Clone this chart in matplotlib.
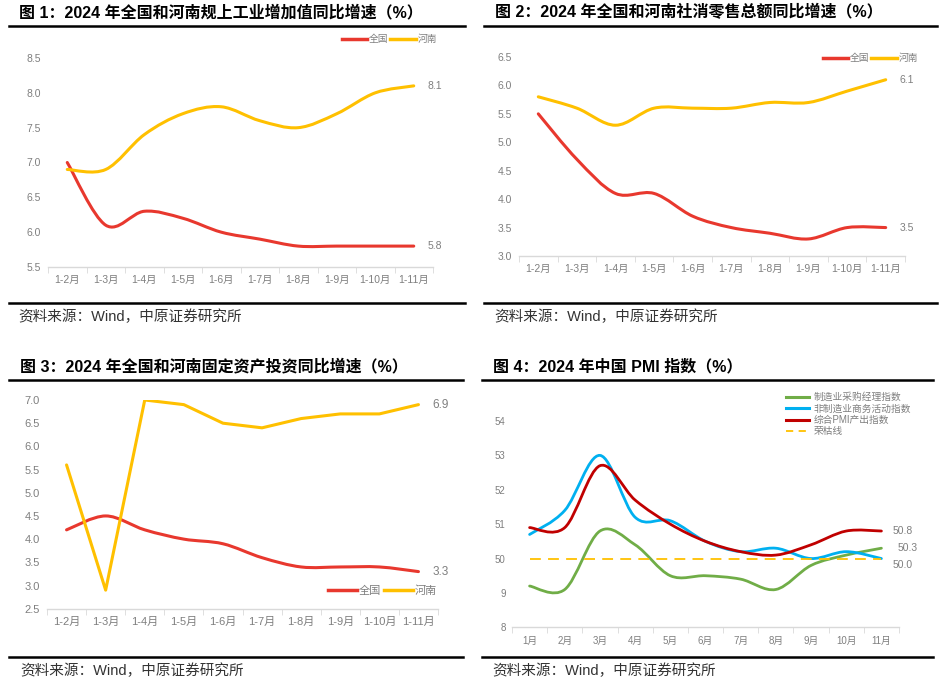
import matplotlib
matplotlib.use("Agg")
import matplotlib.pyplot as plt
from matplotlib.path import Path
from matplotlib.patches import PathPatch
from matplotlib.lines import Line2D

plt.rcParams['font.family'] = ['Liberation Sans', 'Noto Sans CJK SC', 'DejaVu Sans']

# ---- data ----
months_cum = ["1-2月", "1-3月", "1-4月", "1-5月", "1-6月", "1-7月", "1-8月", "1-9月", "1-10月", "1-11月"]
months = ["1月", "2月", "3月", "4月", "5月", "6月", "7月", "8月", "9月", "10月", "11月"]

ind_nat = [7.0, 6.1, 6.3, 6.2, 6.0, 5.9, 5.8, 5.8, 5.8, 5.8]
ind_hn = [6.9, 6.9, 7.4, 7.7, 7.8, 7.6, 7.5, 7.7, 8.0, 8.1]

retail_nat = [5.5, 4.7, 4.1, 4.1, 3.7, 3.5, 3.4, 3.3, 3.5, 3.5]
retail_hn = [5.8, 5.6, 5.3, 5.6, 5.6, 5.6, 5.7, 5.7, 5.9, 6.1]

fai_nat = [4.2, 4.5, 4.2, 4.0, 3.9, 3.6, 3.4, 3.4, 3.4, 3.3]
fai_hn = [5.6, 2.9, 7.0, 6.9, 6.5, 6.4, 6.6, 6.7, 6.7, 6.9]

pmi_mfg = [49.2, 49.1, 50.8, 50.4, 49.5, 49.5, 49.4, 49.1, 49.8, 50.1, 50.3]
pmi_non = [50.7, 51.4, 53.0, 51.2, 51.1, 50.5, 50.2, 50.3, 50.0, 50.2, 50.0]
pmi_comp = [50.9, 50.9, 52.7, 51.7, 51.0, 50.5, 50.2, 50.1, 50.4, 50.8, 50.8]
pmi_line = 50.0
pmi_ticks = [48, 49, 50, 51, 52, 53, 54]
pmi_ticklabels = ["8", "9", "50", "51", "52", "53", "54"]

RED = "#E8382E"
YEL = "#FFC000"
GREEN = "#70AD47"
BLUE = "#00B0F0"
DRED = "#C00000"
GRAY = "#7F7F7F"

W, H = 942, 682
fig = plt.figure(figsize=(W / 100, H / 100), dpi=100)


def fx(px):
    return px / W


def fy(py):
    return 1 - py / H


def smooth(ax, ys, color, lw=2.2):
    # Excel-style smoothed line: cubic bezier through every point
    pts = list(zip(range(len(ys)), ys))
    verts = [pts[0]]
    codes = [Path.MOVETO]
    n = len(pts)
    for i in range(n - 1):
        p0 = pts[i - 1] if i > 0 else pts[i]
        p1, p2 = pts[i], pts[i + 1]
        p3 = pts[i + 2] if i + 2 < n else pts[i + 1]
        c1 = (p1[0] + (p2[0] - p0[0]) / 6, p1[1] + (p2[1] - p0[1]) / 6)
        c2 = (p2[0] - (p3[0] - p1[0]) / 6, p2[1] - (p3[1] - p1[1]) / 6)
        verts += [c1, c2, p2]
        codes += [Path.CURVE4] * 3
    ax.add_patch(PathPatch(Path(verts, codes), fill=False, edgecolor=color, lw=lw,
                           capstyle='round', joinstyle='round'))


def frame(x0, x1, ytitle, yrule, ybot, title, tx, sx):
    fig.add_artist(Line2D([fx(x0), fx(x1)], [fy(yrule), fy(yrule)], color='black', lw=1.8))
    fig.add_artist(Line2D([fx(x0), fx(x1)], [fy(ybot), fy(ybot)], color='black', lw=1.8))
    fig.text(fx(tx), fy(ytitle), title, fontsize=11.5, fontweight='bold', va='center', ha='left')
    fig.text(fx(sx), fy(ybot + 14), "资料来源：Wind，中原证券研究所", fontsize=10.5,
             va='center', ha='left', color='#333333')


def setup(ax, labels, ylim, yticks, fs=7, ypad=5):
    n = len(labels)
    ax.set_xlim(-0.5, n - 0.5)
    ax.set_ylim(*ylim)
    ax.set_xticks(range(n))
    ax.set_xticklabels(labels, fontsize=fs, color=GRAY)
    ax.set_xticks([i - 0.5 for i in range(n + 1)], minor=True)
    ax.tick_params(axis='x', which='major', length=0, pad=6)
    ax.tick_params(axis='x', which='minor', length=4, color='#D9D9D9', direction='out')
    ax.set_yticks(yticks)
    ax.tick_params(axis='y', length=0, labelsize=fs, labelcolor=GRAY, pad=ypad)
    for s in ['top', 'right', 'left']:
        ax.spines[s].set_visible(False)
    ax.spines['bottom'].set_color('#D9D9D9')
    ax.spines['bottom'].set_linewidth(1)
    ax.patch.set_alpha(0)


def legend2(ax, colors, names, xr, yc, fs=7):
    handles = [Line2D([], [], color=c, lw=2.5) for c in colors]
    ax.legend(handles, names, loc='center right', bbox_to_anchor=(fx(xr), fy(yc)),
              bbox_transform=fig.transFigure, ncol=len(names), frameon=False, fontsize=fs,
              handlelength=2.6, handletextpad=0.2, columnspacing=0.2, labelcolor=GRAY,
              borderpad=0, borderaxespad=0)


# ---- panel 1 ----
frame(9, 465, 12, 25.7, 302.7, "图 1：2024 年全国和河南规上工业增加值同比增速（%）", 19, 18)
ax1 = fig.add_axes([fx(48), fy(267), fx(433 - 48), (267 - 58) / H])
setup(ax1, months_cum, (5.5, 8.5), [5.5, 6.0, 6.5, 7.0, 7.5, 8.0, 8.5], fs=7.5)
ax1.set_yticklabels([f"{v:.1f}" for v in ax1.get_yticks()])
smooth(ax1, ind_nat, RED)
smooth(ax1, ind_hn, YEL)
ax1.annotate(f"{ind_hn[-1]:.1f}", (9, ind_hn[-1]), xytext=(10, 0), textcoords='offset points',
             fontsize=7.5, color=GRAY, va='center')
ax1.annotate(f"{ind_nat[-1]:.1f}", (9, ind_nat[-1]), xytext=(10, 0), textcoords='offset points',
             fontsize=7.5, color=GRAY, va='center')
legend2(ax1, [RED, YEL], ["全国", "河南"], 437, 39)

# ---- panel 2 ----
frame(484, 937, 12, 25.7, 302.7, "图 2：2024 年全国和河南社消零售总额同比增速（%）", 495, 494)
ax2 = fig.add_axes([fx(519), fy(256), fx(905 - 519), (256 - 57) / H])
setup(ax2, months_cum, (3.0, 6.5), [3.0, 3.5, 4.0, 4.5, 5.0, 5.5, 6.0, 6.5], fs=7.5)
ax2.set_yticklabels([f"{v:.1f}" for v in ax2.get_yticks()])
smooth(ax2, retail_nat, RED)
smooth(ax2, retail_hn, YEL)
ax2.annotate(f"{retail_hn[-1]:.1f}", (9, retail_hn[-1]), xytext=(10, 0), textcoords='offset points',
             fontsize=7.5, color=GRAY, va='center')
ax2.annotate(f"{retail_nat[-1]:.1f}", (9, retail_nat[-1]), xytext=(10, 0), textcoords='offset points',
             fontsize=7.5, color=GRAY, va='center')
legend2(ax2, [RED, YEL], ["全国", "河南"], 918, 58)

# ---- panel 3 ----
frame(9, 463, 366.7, 380, 656.7, "图 3：2024 年全国和河南固定资产投资同比增速（%）", 20, 20)
ax3 = fig.add_axes([fx(47), fy(608.7), fx(438 - 47), (608.7 - 400) / H])
setup(ax3, months_cum, (2.5, 7.0), [2.5, 3.0, 3.5, 4.0, 4.5, 5.0, 5.5, 6.0, 6.5, 7.0], fs=8)
ax3.set_yticklabels([f"{v:.1f}" for v in ax3.get_yticks()])
smooth(ax3, fai_nat, RED)
ax3.plot(range(len(fai_hn)), fai_hn, color=YEL, lw=2.2, solid_joinstyle='round',
         solid_capstyle='round')
ax3.annotate(f"{fai_hn[-1]:.1f}", (9, fai_hn[-1]), xytext=(10, 0), textcoords='offset points',
             fontsize=8.5, color=GRAY, va='center')
ax3.annotate(f"{fai_nat[-1]:.1f}", (9, fai_nat[-1]), xytext=(10, 0), textcoords='offset points',
             fontsize=8.5, color=GRAY, va='center')
legend2(ax3, [RED, YEL], ["全国", "河南"], 437, 590.7, fs=8)

# ---- panel 4 ----
frame(482, 933, 366.7, 380, 656.7, "图 4：2024 年中国 PMI 指数（%）", 493, 492)
ax4 = fig.add_axes([fx(512), fy(627.3), fx(899 - 512), (627.3 - 421) / H])
setup(ax4, months, (48, 54), pmi_ticks, fs=7, ypad=4.5)
ax4.set_yticklabels(pmi_ticklabels)
ax4.plot([0, len(months) - 1], [pmi_line, pmi_line], color=YEL, lw=1.3, ls=(0, (6, 4)))
smooth(ax4, pmi_mfg, GREEN, lw=2)
smooth(ax4, pmi_non, BLUE, lw=2)
smooth(ax4, pmi_comp, DRED, lw=2)
ax4.annotate(f"{pmi_comp[-1]:.1f}", (10, pmi_comp[-1]), xytext=(8, 0), textcoords='offset points',
             fontsize=7.5, color=GRAY, va='center')
ax4.annotate(f"{pmi_mfg[-1]:.1f}", (10, pmi_mfg[-1]), xytext=(12, 0), textcoords='offset points',
             fontsize=7.5, color=GRAY, va='center')
ax4.annotate(f"{pmi_non[-1]:.1f}", (10, pmi_non[-1]), xytext=(8, -5), textcoords='offset points',
             fontsize=7.5, color=GRAY, va='center')
h4 = [Line2D([], [], color=GREEN, lw=2.2), Line2D([], [], color=BLUE, lw=2.2),
      Line2D([], [], color=DRED, lw=2.2), Line2D([], [], color=YEL, lw=1.3, ls=(0, (4, 3)))]
ax4.legend(h4, ["制造业采购经理指数", "非制造业商务活动指数", "综合PMI产出指数", "荣枯线"],
           loc='upper left', bbox_to_anchor=(fx(786), fy(392)), bbox_transform=fig.transFigure,
           frameon=False, fontsize=7, handlelength=2.4, handletextpad=0.4, labelspacing=0.15,
           labelcolor=GRAY, borderpad=0, borderaxespad=0)

fig.savefig("out.png", dpi=100)
